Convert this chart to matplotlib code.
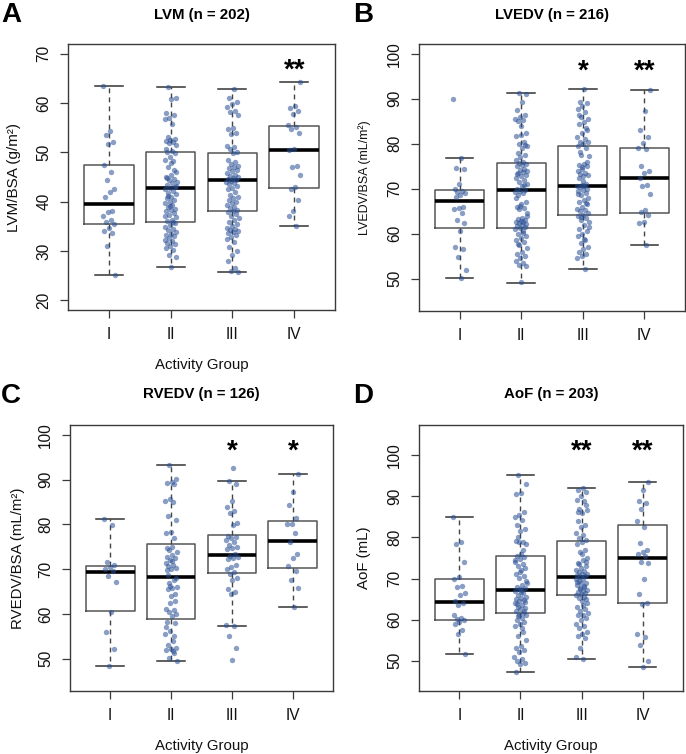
import matplotlib
matplotlib.use("Agg")
import matplotlib.pyplot as plt
import numpy as np

plt.rcParams['font.family'] = ['Liberation Sans', 'DejaVu Sans']

groups = ["I", "II", "III", "IV"]

# ---------------- Panel A: LVM ----------------
A_title = "LVM (n = 202)"
A_ylabel = "LVM/BSA (g/m²)"
A_yticks = [20, 30, 40, 50, 60, 70]
A_ylim = (20, 70)
A_med = [39.5, 42.8, 44.3, 50.5]
A_q1 = [35.5, 35.9, 38.0, 42.8]
A_q3 = [47.5, 50.0, 49.9, 55.3]
A_lo = [25.2, 26.7, 25.8, 35.1]
A_hi = [63.5, 63.3, 62.8, 64.3]
A_stars = ["", "", "", "**"]
A_I = [63.5, 54.3, 53.6, 52.2, 51.7, 47.5, 46.1, 44.4, 42.5, 41.9, 41.0, 38.0, 37.9,
       37.0, 36.3, 35.8, 35.5, 34.6, 34.1, 33.6, 31.0, 25.2]
A_II = [63.3, 61.0, 60.8, 58.0, 57.5, 57.0, 56.8, 55.7, 53.1, 52.8, 52.5, 52.4, 52.2,
        52.0, 51.5, 50.3, 50.1, 49.8, 49.0, 48.5, 48.2, 47.0, 46.0, 45.4, 45.0, 44.6,
        44.3, 44.0, 43.8, 43.4, 43.0, 42.8, 42.5, 42.2, 41.8, 41.5, 41.0, 40.7, 40.3,
        40.0, 39.8, 39.4, 39.0, 38.6, 38.2, 38.0, 37.7, 37.3, 36.8, 36.3, 36.0, 35.6,
        35.2, 34.8, 34.5, 34.2, 33.9, 33.5, 33.2, 33.0, 32.6, 32.3, 32.0, 31.6, 31.3,
        31.0, 30.5, 30.2, 29.2, 28.8, 26.7, 44.8, 46.5, 39.2, 37.0, 35.8, 41.2, 43.2,
        47.8, 50.6]
A_III = [62.8, 61.0, 60.2, 59.8, 59.3, 58.5, 58.2, 57.6, 55.0, 54.8, 54.0, 53.8, 51.3,
         51.0, 50.6, 50.1, 49.8, 48.4, 48.0, 47.6, 47.3, 47.0, 46.8, 46.5, 46.2, 45.8,
         45.5, 45.2, 45.0, 44.8, 44.6, 44.4, 44.2, 44.0, 43.8, 43.5, 43.2, 42.8, 42.5,
         42.0, 41.4, 41.0, 40.7, 40.4, 40.0, 39.7, 39.4, 39.0, 38.7, 38.4, 38.1, 37.8,
         37.4, 37.0, 36.6, 36.2, 35.8, 35.4, 35.0, 34.6, 34.4, 34.2, 34.0, 33.8, 33.6,
         33.2, 32.8, 32.5, 31.8, 30.8, 30.0, 29.2, 28.0, 26.6, 26.0, 25.8]
A_IV = [64.2, 59.4, 59.0, 58.5, 57.8, 55.5, 55.2, 54.8, 54.0, 50.6, 50.4, 47.2, 47.0,
        45.5, 43.0, 42.5, 40.3, 38.1, 37.0, 35.1]

# ---------------- Panel B: LVEDV ----------------
B_title = "LVEDV (n = 216)"
B_ylabel = "LVEDV/BSA (mL/m²)"
B_yticks = [50, 60, 70, 80, 90, 100]
B_ylim = (45, 100)
B_med = [67.2, 69.8, 70.5, 72.5]
B_q1 = [61.3, 61.3, 64.2, 64.7]
B_q3 = [69.8, 75.7, 79.6, 79.1]
B_lo = [50.2, 49.1, 52.1, 57.5]
B_hi = [76.9, 91.4, 92.2, 91.9]
B_stars = ["", "", "*", "**"]
B_I = [90.0, 76.9, 74.6, 74.5, 71.0, 70.0, 69.5, 69.3, 69.0, 68.5, 68.2, 66.0, 65.8,
       65.5, 64.5, 63.0, 62.3, 60.5, 57.0, 56.6, 54.8, 52.0, 50.2]
B_II = [91.4, 91.0, 89.3, 87.5, 86.5, 86.0, 85.5, 85.2, 85.0, 82.3, 82.0, 81.8, 80.5,
        80.0, 79.5, 79.0, 78.0, 77.5, 77.0, 76.5, 76.0, 75.8, 75.5, 75.2, 75.0, 74.5,
        74.2, 74.0, 73.8, 73.5, 73.0, 72.8, 72.5, 72.0, 71.5, 71.0, 70.5, 70.0, 69.7,
        69.5, 69.2, 69.0, 68.5, 67.0, 66.5, 66.0, 65.7, 65.5, 64.5, 63.5, 63.2, 63.0,
        62.8, 62.6, 62.5, 62.3, 62.1, 62.0, 61.8, 61.5, 61.2, 61.0, 60.5, 60.0, 59.5,
        59.0, 58.5, 58.2, 57.5, 56.8, 56.0, 55.5, 55.0, 54.5, 54.0, 53.5, 53.0, 52.8,
        49.2, 73.2, 70.8, 66.2, 64.0, 60.2, 57.8, 79.8, 84.0, 68.0]
B_III = [92.2, 89.3, 89.0, 88.5, 87.8, 87.0, 86.0, 85.5, 84.8, 84.5, 83.5, 82.5, 81.5,
         81.0, 80.5, 80.3, 80.0, 79.5, 79.0, 77.5, 77.2, 75.5, 75.2, 75.0, 74.5, 74.0,
         73.5, 73.2, 73.0, 72.8, 72.5, 71.0, 70.8, 70.6, 70.5, 70.3, 70.0, 69.8, 69.5,
         69.0, 68.5, 68.0, 67.5, 67.0, 66.5, 66.0, 65.5, 65.2, 65.0, 64.5, 64.2, 64.0,
         63.5, 63.0, 62.5, 62.0, 61.0, 60.5, 60.0, 59.5, 58.5, 58.0, 57.0, 56.5, 56.0,
         55.5, 55.0, 54.5, 52.1, 78.2, 76.0, 71.8, 68.8, 66.8, 63.8, 61.5, 58.8, 86.5,
         83.0, 74.8]
B_IV = [91.9, 87.2, 83.0, 81.5, 80.2, 79.0, 78.9, 75.0, 74.0, 73.5, 72.5, 70.8, 70.7,
        68.8, 65.3, 64.8, 64.2, 62.5, 62.3, 57.5]

# ---------------- Panel C: RVEDV ----------------
C_title = "RVEDV (n = 126)"
C_ylabel = "RVEDV/BSA (mL/m²)"
C_yticks = [50, 60, 70, 80, 90, 100]
C_ylim = (45, 100)
C_med = [69.4, 68.3, 73.2, 76.2]
C_q1 = [60.6, 58.9, 69.1, 70.2]
C_q3 = [70.7, 75.7, 77.7, 80.8]
C_lo = [48.4, 49.4, 57.4, 61.5]
C_hi = [81.2, 93.2, 89.6, 91.3]
C_stars = ["", "", "*", "*"]
C_I = [81.2, 79.8, 71.5, 71.0, 70.5, 70.0, 69.5, 68.5, 67.2, 60.5, 56.0, 52.2, 48.4]
C_II = [93.2, 90.2, 89.5, 89.2, 89.0, 85.7, 85.3, 85.0, 81.8, 81.0, 78.3, 78.0, 77.0,
        74.2, 73.8, 73.2, 72.8, 72.5, 72.0, 71.3, 71.0, 70.8, 70.3, 70.0, 69.8, 67.5,
        66.2, 66.0, 65.8, 65.5, 64.5, 64.0, 61.0, 60.8, 60.5, 60.0, 59.5, 58.3, 58.0,
        56.3, 55.5, 54.0, 53.0, 52.5, 52.2, 52.0, 51.2, 50.2, 49.5, 75.0, 68.8, 63.0,
        62.5, 57.0, 51.8, 67.0, 68.0, 71.8, 74.8, 55.0]
C_III = [92.7, 89.6, 89.0, 85.2, 83.8, 83.0, 82.5, 80.3, 79.8, 77.5, 77.2, 77.0, 76.5,
         76.0, 75.5, 75.0, 74.8, 74.5, 73.5, 73.0, 72.8, 72.5, 72.3, 71.0, 70.5, 70.0,
         69.3, 69.0, 68.0, 67.5, 65.5, 64.8, 64.5, 57.5, 57.3, 55.0, 52.3, 49.7]
C_IV = [91.3, 87.3, 84.3, 81.5, 80.0, 80.0, 78.0, 76.0, 73.5, 72.5, 70.8, 69.6, 67.5,
        65.7, 61.5]

# ---------------- Panel D: AoF ----------------
D_title = "AoF (n = 203)"
D_ylabel = "AoF (mL)"
D_yticks = [50, 60, 70, 80, 90, 100]
D_ylim = (45, 105)
D_med = [64.4, 67.1, 70.3, 75.0]
D_q1 = [60.0, 61.5, 65.9, 64.0]
D_q3 = [70.0, 75.5, 79.1, 83.1]
D_lo = [51.5, 47.2, 50.5, 48.5]
D_hi = [85.1, 95.2, 92.1, 93.6]
D_stars = ["", "", "**", "**"]
D_I = [85.0, 79.0, 78.5, 74.0, 70.3, 70.0, 68.2, 68.0, 66.5, 66.0, 64.5, 64.0, 63.5,
       61.0, 60.5, 60.2, 60.0, 59.5, 59.0, 57.5, 56.5, 51.5]
D_II = [95.2, 93.0, 90.8, 90.5, 86.2, 85.5, 85.0, 84.2, 83.0, 82.0, 81.5, 79.2, 79.0,
        78.8, 78.5, 76.0, 75.5, 75.2, 74.8, 74.5, 73.5, 73.0, 72.5, 72.0, 71.0, 70.5,
        70.2, 69.0, 68.5, 68.0, 67.8, 67.5, 67.0, 66.5, 66.0, 65.5, 65.2, 65.0, 64.8,
        64.5, 64.0, 63.5, 63.0, 62.8, 62.5, 62.0, 61.5, 61.2, 61.0, 60.5, 60.0, 59.5,
        59.0, 58.5, 57.0, 56.0, 55.0, 53.5, 53.0, 52.5, 52.0, 51.0, 50.5, 50.0, 49.5,
        49.2, 47.2, 77.0, 80.0, 69.5, 66.8, 63.8, 62.2, 71.5, 74.0, 58.0, 60.8, 64.2,
        67.2]
D_III = [92.0, 91.5, 91.0, 90.0, 89.2, 89.0, 87.0, 86.8, 86.0, 86.2, 83.0, 82.5, 81.0,
         80.5, 79.8, 79.5, 79.0, 78.5, 77.0, 76.5, 75.0, 74.5, 73.8, 73.0, 72.5, 72.0,
         71.8, 71.5, 71.2, 71.0, 70.8, 70.5, 70.3, 70.0, 69.8, 69.5, 69.0, 68.8, 68.5,
         68.0, 67.5, 67.2, 67.0, 66.8, 66.5, 66.2, 66.0, 65.5, 65.2, 65.0, 64.5, 63.0,
         62.5, 62.0, 61.5, 61.2, 61.0, 60.5, 60.0, 59.0, 58.5, 58.0, 57.0, 56.5, 56.0,
         55.5, 53.0, 51.0, 50.5, 73.5, 74.0, 76.0, 69.2, 68.2, 67.8, 64.0, 63.5, 84.0,
         88.0]
D_IV = [93.5, 91.5, 89.0, 88.5, 87.0, 84.0, 82.5, 78.7, 77.0, 76.5, 76.0, 75.5, 74.0,
        73.7, 70.0, 66.2, 64.0, 63.8, 56.5, 55.8, 53.8, 50.0, 48.5]

W, H = 686, 754
fig = plt.figure(figsize=(W / 100, H / 100), dpi=100)

panels = [
    dict(letter="A", title=A_title, ylabel=A_ylabel, yticks=A_yticks, ylim=A_ylim,
         med=A_med, q1=A_q1, q3=A_q3, lo=A_lo, hi=A_hi, stars=A_stars,
         pts=[A_I, A_II, A_III, A_IV], rect_px=(68, 44, 335, 310), xlabel=True,
         ylab_size=11, ylab_x=14),
    dict(letter="B", title=B_title, ylabel=B_ylabel, yticks=B_yticks, ylim=B_ylim,
         med=B_med, q1=B_q1, q3=B_q3, lo=B_lo, hi=B_hi, stars=B_stars,
         pts=[B_I, B_II, B_III, B_IV], rect_px=(419, 44, 685, 311), xlabel=False,
         ylab_size=9, ylab_x=365),
    dict(letter="C", title=C_title, ylabel=C_ylabel, yticks=C_yticks, ylim=C_ylim,
         med=C_med, q1=C_q1, q3=C_q3, lo=C_lo, hi=C_hi, stars=C_stars,
         pts=[C_I, C_II, C_III, C_IV], rect_px=(70, 425, 333, 691), xlabel=True,
         ylab_size=10.8, ylab_x=18),
    dict(letter="D", title=D_title, ylabel=D_ylabel, yticks=D_yticks, ylim=D_ylim,
         med=D_med, q1=D_q1, q3=D_q3, lo=D_lo, hi=D_hi, stars=D_stars,
         pts=[D_I, D_II, D_III, D_IV], rect_px=(419, 425, 683, 691), xlabel=True,
         ylab_size=10.8, ylab_x=364),
]

point_color = (0.16, 0.31, 0.58)
axis_col = "#3a3a3a"

for p in panels:
    x0, y0, x1, y1 = p["rect_px"]
    ax = fig.add_axes([x0 / W, 1 - y1 / H, (x1 - x0) / W, (y1 - y0) / H])
    lo_, hi_ = p["ylim"]
    ext = 0.04 * (hi_ - lo_)
    ax.set_ylim(lo_ - ext, hi_ + ext)
    ax.set_xlim(0.34, 4.66)

    stats = []
    for i in range(4):
        stats.append(dict(med=p["med"][i], q1=p["q1"][i], q3=p["q3"][i],
                          whislo=p["lo"][i], whishi=p["hi"][i], fliers=[]))
    ax.bxp(stats, positions=[1, 2, 3, 4], widths=0.8, capwidths=0.45,
           showfliers=False, patch_artist=False,
           boxprops=dict(color="#555555", linewidth=1.1),
           medianprops=dict(color="black", linewidth=2.6, solid_capstyle="butt"),
           whiskerprops=dict(color="#444444", linewidth=1.0, linestyle=(0, (3.5, 3))),
           capprops=dict(color="#333333", linewidth=1.1), manage_ticks=False)

    for gi, vals in enumerate(p["pts"]):
        n = len(vals)
        idx = np.arange(n)
        offs = ((idx * 0.6180339887 + 0.31 * gi) % 1.0 - 0.5) * 0.2
        ax.scatter(gi + 1 + offs, vals, s=15, color=point_color, alpha=0.55,
                   linewidths=0, zorder=4)

    for gi, st in enumerate(p["stars"]):
        if st:
            ax.text(gi + 1, hi_ - 0.07 * (hi_ - lo_), st, ha="center", va="center",
                    fontsize=20, fontweight="bold", color="black")

    ax.set_xticks([1, 2, 3, 4])
    ax.set_xticklabels(groups)
    ax.set_yticks(p["yticks"])
    ax.set_yticklabels([str(t) for t in p["yticks"]], rotation=90, va="center")
    ax.tick_params(axis="both", length=5.5, width=0.9, color=axis_col,
                   labelsize=11.2, labelcolor="#111111", pad=6.5)
    for s in ax.spines.values():
        s.set_color(axis_col)
        s.set_linewidth(1.0)

    # title & letter
    xc = (x0 + x1) / 2 / W
    fig.text(xc, 1 - 15 / H if y0 < 100 else 1 - 394 / H, p["title"], ha="center",
             va="center", fontsize=10.8, fontweight="bold")
    fig.text(1 / W if p["letter"] in "AC" else (353 / W), 1 - (y0 - 29) / H,
             p["letter"], ha="left", va="center", fontsize=20, fontweight="bold")

    fig.text(p["ylab_x"] / W, 1 - (y0 + y1) / 2 / H, p["ylabel"], rotation=90,
             ha="center", va="center", fontsize=p["ylab_size"], color="#111111")
    if p["xlabel"]:
        fig.text(xc, 1 - (y1 + 55) / H, "Activity Group", ha="center", va="center",
                 fontsize=10.8, color="#111111")

fig.savefig("out.png", dpi=100)
